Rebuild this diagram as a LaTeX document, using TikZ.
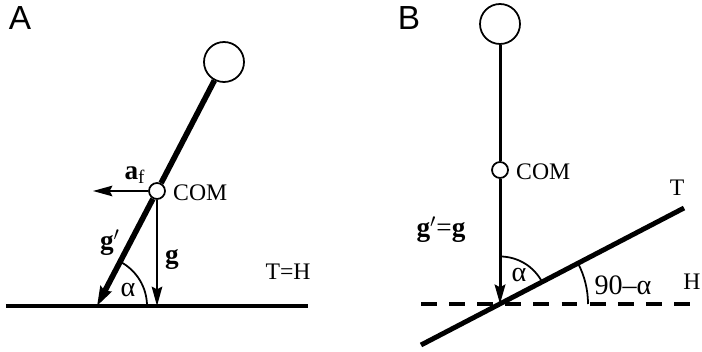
\documentclass[tikz,border=0pt]{standalone}
\usepackage{fontspec}
\setmainfont{Liberation Serif}
\newfontfamily\panelfont{Liberation Sans}
\usetikzlibrary{arrows.meta}

\tikzset{
  ball/.style={circle,draw,fill=white,line width=1pt,inner sep=0pt},
  trunk/.style={line width=3.2pt},
  force/.style={line width=1pt,-{Stealth[length=11pt,width=6pt,inset=1.5pt]}},
  ground/.style={line width=2.6pt},
  tag/.style={font=\fontsize{13.5}{16}\selectfont},
  vec/.style={font=\fontsize{15.5}{18}\selectfont},
  ang/.style={font=\fontsize{16}{18}\selectfont},
  panel/.style={font=\fontsize{19}{22}\selectfont\panelfont}
}

\begin{document}
\begin{tikzpicture}
  \useasboundingbox (0,0) rectangle (14.04,7.02);
  % helper grid: comment for final drawing
  % \draw[help lines,step=.5] (0,0) grid (14,7);

  % % panel A
  \node[panel] (labA) at (0.40,6.66) {A};
  \coordinate (gndA1) at (0.12,0.90);
  \coordinate (gndA2) at (6.16,0.90);
  \coordinate (footA) at (1.94,0.90);
  \coordinate (dropA) at (3.14,0.90);
  \coordinate (accA)  at (1.86,3.20);

  \draw[ground] (gndA1) -- (gndA2);
  % angle alpha
  \draw[line width=1pt] (2.94,0.90) arc (0:62.5:1.0);

  \node[ball,minimum size=0.80cm] (headA) at (4.48,5.78) {};
  \node[ball,minimum size=0.32cm] (comA)  at (3.14,3.20) {};

  \draw[trunk] (headA) -- (comA);
  \draw[trunk,-{Stealth[length=11pt,width=7pt,inset=1.5pt]}] (comA) -- (footA);
  \draw[force] (comA) -- (dropA);
  \draw[force] (comA) -- (accA);

  \node[vec] (afA)   at (2.70,3.52) {\textbf{a}\textsubscript{f}};
  \node[tag,anchor=west] (txtA) at (3.34,3.16) {COM};
  \node[vec] (gpA)   at (2.20,2.16) {\textbf{g}$'$};
  \node[vec] (gA)    at (3.44,1.82) {\textbf{g}};
  \node[tag] (thA)   at (5.76,1.58) {T=H};
  \node[ang] (alA)   at (2.56,1.22) {α};

  % % panel B
  \node[panel] (labB) at (8.18,6.66) {B};
  \coordinate (footB) at (10.00,0.94);
  \coordinate (hB1) at (8.42,0.94);
  \coordinate (hB2) at (14.04,0.94);
  \coordinate (tB1) at (8.42,0.12);
  \coordinate (tB2) at (13.68,2.86);

  \draw[ground,dash pattern=on 9pt off 7pt] (hB1) -- (hB2);
  \draw[line width=2.8pt] (tB1) -- (tB2);
  % angles alpha and 90-alpha
  \draw[line width=1pt] (10.00,1.89) arc (90:27.5:0.95);
  \draw[line width=1pt] (11.76,0.94) arc (0:27.5:1.76);

  \node[ball,minimum size=0.80cm] (headB) at (10.00,6.54) {};
  \node[ball,minimum size=0.32cm] (comB)  at (10.00,3.62) {};

  \draw[line width=1.7pt] (headB) -- (comB);
  \draw[line width=1.7pt,-{Stealth[length=11pt,width=6pt,inset=1.5pt]}] (comB) -- (footB);

  \node[tag,anchor=west] (txtB) at (10.20,3.58) {COM};
  \node[vec] (ggB)  at (8.82,2.42) {\textbf{g}$'$=\textbf{g}};
  \node[ang] (alB)  at (10.38,1.52) {α};
  \node[ang] (ninB) at (12.46,1.32) {90–α};
  \node[tag] (hB)   at (13.84,1.38) {H};
  \node[tag] (tB)   at (13.54,3.26) {T};

\end{tikzpicture}
\end{document}
